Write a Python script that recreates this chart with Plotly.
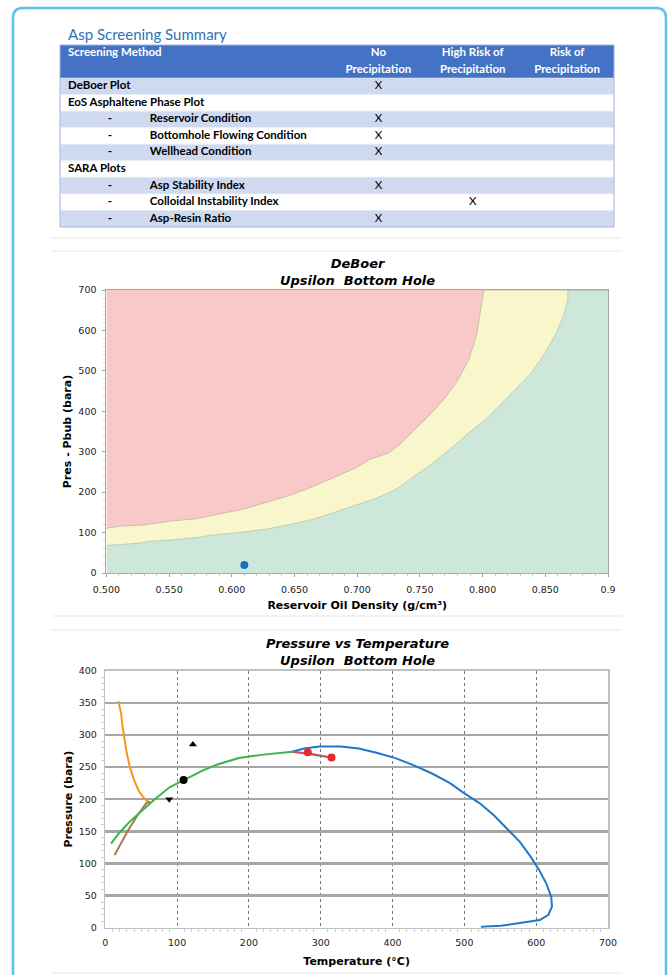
import plotly.graph_objects as go

# ---------------- data ----------------
table_title = "Asp Screening Summary"
header_top = ["Screening Method", "No", "High Risk of", "Risk of"]
header_bottom = ["", "Precipitation", "Precipitation", "Precipitation"]
methods = ["DeBoer Plot", "EoS Asphaltene Phase Plot", "Reservoir Condition",
           "Bottomhole Flowing Condition", "Wellhead Condition", "SARA Plots",
           "Asp Stability Index", "Colloidal Instability Index", "Asp-Resin Ratio"]
is_sub = [False, False, True, True, True, False, True, True, True]
no_precip = ["X", "", "X", "X", "X", "", "X", "", "X"]
high_risk = ["", "", "", "", "", "", "", "X", ""]
risk_precip = ["", "", "", "", "", "", "", "", ""]

# DeBoer plot boundaries
lower_density = [0.500, 0.527, 0.533, 0.550, 0.576, 0.582, 0.608, 0.629, 0.646, 0.664, 0.681, 0.699, 0.716,
                 0.725, 0.734, 0.745, 0.757, 0.774, 0.786, 0.804, 0.821, 0.839, 0.850, 0.859, 0.865, 0.868, 0.868]
lower_dp = [68, 74, 78, 81, 89, 93, 101, 109, 120, 132, 149, 169, 186,
            198, 213, 239, 264, 306, 339, 384, 438, 495, 545, 595, 640, 677, 700]
upper_density = [0.500, 0.512, 0.530, 0.550, 0.571, 0.588, 0.608, 0.629, 0.646, 0.664, 0.681, 0.699,
                 0.710, 0.725, 0.734, 0.745, 0.757, 0.769, 0.780, 0.789, 0.795, 0.799, 0.801]
upper_dp = [111, 116, 119, 128, 134, 145, 157, 176, 192, 213, 235, 260,
            281, 297, 318, 351, 388, 429, 475, 528, 586, 661, 700]
well_density = [0.610]
well_dp = [20]
density_range = [0.5, 0.9]
dp_range = [0, 700]
density_ticks = [0.50, 0.55, 0.60, 0.65, 0.70, 0.75, 0.80, 0.85, 0.90]
density_ticktext = ["0.500", "0.550", "0.600", "0.650", "0.700", "0.750", "0.800", "0.850", "0.9"]

# Pressure vs Temperature
orange_T = [18, 22, 24, 27, 30, 34, 40, 47, 56, 62]
orange_P = [353, 334, 313, 292, 271, 251, 230, 212, 199, 195]
brown_T = [13, 22, 32, 45, 57, 62]
brown_P = [113, 131, 152, 175, 194, 196]
green_T = [8, 19, 34, 55, 70, 90, 110, 136, 156, 186, 217, 247, 260, 277, 315]
green_P = [131, 147, 165, 186, 201, 219, 230, 245, 254, 264, 269, 272, 274, 271, 265]
pink_T = [260, 282, 315]
pink_P = [274, 272, 265]
red_T = [282, 315]
red_P = [273, 265]
blue_T = [260, 277, 298, 328, 353, 379, 404, 429, 455, 480, 500, 521, 541, 561, 577, 592, 604, 614,
          621, 622, 617, 605, 581, 561, 551, 531, 523]
blue_P = [274, 279, 282, 282, 279, 272, 264, 253, 240, 225, 209, 194, 175, 152, 134, 111, 90, 69,
          48, 33, 20, 12, 8, 4, 3, 2, 1]
circle_T, circle_P = [109], [230]
tri_up_T, tri_up_P = [122], [285]
tri_dn_T, tri_dn_P = [89], [200]

# ---------------- layout helpers ----------------
W, H = 669, 975
def px(x): return x / W
def py(y): return 1 - y / H

BLUE_ROW = "#cfdaf0"
HEAD = "#4472c4"
TFONT = "Lato"
TSIZE = 11.5

# table grid in its own axis: columns in px-like units, rows in row units (header = 2 units)
col_w = [272, 94, 95, 94]
col_left = [sum(col_w[:i]) for i in range(len(col_w))]
col_mid = [l + w / 2 for l, w in zip(col_left, col_w)]
table_w = sum(col_w)
n = len(methods)
row_y = [i + 0.5 for i in range(n)]
row_colors = [BLUE_ROW if i % 2 == 0 else "#ffffff" for i in range(n)]

fig = go.Figure()

# header and row backgrounds as horizontal bars
fig.add_trace(go.Bar(orientation="h", y=[-1], x=[table_w], base=0, width=2,
                     marker=dict(color=HEAD, line=dict(width=0)),
                     xaxis="x3", yaxis="y3", hoverinfo="skip"))
fig.add_trace(go.Bar(orientation="h", y=row_y, x=[table_w] * n, base=0, width=1,
                     marker=dict(color=row_colors, line=dict(color="#e9eef8", width=0.6)),
                     xaxis="x3", yaxis="y3", hoverinfo="skip"))

def table_text(xs, ys, texts, pos, color="black", weight="bold"):
    fig.add_trace(go.Scatter(x=xs, y=ys, text=texts, mode="text", textposition=pos,
                             textfont=dict(family=TFONT, size=TSIZE, color=color, weight=weight),
                             xaxis="x3", yaxis="y3", cliponaxis=False, hoverinfo="skip"))

# header text
table_text([8], [-1.5], [header_top[0]], "middle right", "white")
table_text(col_mid[1:], [-1.5] * 3, header_top[1:], "middle center", "white")
table_text(col_mid[1:], [-0.5] * 3, header_bottom[1:], "middle center", "white")
# first column
main_idx = [i for i in range(n) if not is_sub[i]]
sub_idx = [i for i in range(n) if is_sub[i]]
table_text([8] * len(main_idx), [row_y[i] for i in main_idx], [methods[i] for i in main_idx], "middle right")
table_text([50] * len(sub_idx), [row_y[i] for i in sub_idx], ["-"] * len(sub_idx), "middle center")
table_text([90] * len(sub_idx), [row_y[i] for i in sub_idx], [methods[i] for i in sub_idx], "middle right")
# result columns
for c, vals in zip(col_mid[1:], [no_precip, high_risk, risk_precip]):
    table_text([c] * n, row_y, vals, "middle center", weight="normal")

# DeBoer
fig.add_trace(go.Scatter(x=lower_density + [density_range[1]], y=lower_dp + [dp_range[1]],
                         mode="lines", line=dict(color="#a9c6ae", width=0.8), fill="tozeroy",
                         fillcolor="#cde7da", xaxis="x", yaxis="y", hoverinfo="skip"))
fig.add_trace(go.Scatter(x=upper_density + [density_range[1]], y=upper_dp + [dp_range[1]],
                         mode="lines", line=dict(color="#b9b9a0", width=0.8), fill="tonexty",
                         fillcolor="#faf6cb", xaxis="x", yaxis="y", hoverinfo="skip"))
fig.add_trace(go.Scatter(x=density_range, y=[dp_range[1]] * 2,
                         mode="lines", line=dict(width=0), fill="tonexty",
                         fillcolor="#f9c9ca", xaxis="x", yaxis="y", hoverinfo="skip"))
fig.add_trace(go.Scatter(x=well_density, y=well_dp, mode="markers",
                         marker=dict(color="#1f6fc0", size=8), xaxis="x", yaxis="y"))

# Pressure vs Temperature
def line(xs, ys, color, width=2):
    fig.add_trace(go.Scatter(x=xs, y=ys, mode="lines", line=dict(color=color, width=width),
                             xaxis="x2", yaxis="y2"))
line(blue_T, blue_P, "#1f78c8")
line(orange_T, orange_P, "#f7941d")
line(brown_T, brown_P, "#a87a4e")
line(green_T, green_P, "#3cb44a")
line(pink_T, pink_P, "#e0407a", 1.5)
fig.add_trace(go.Scatter(x=red_T, y=red_P, mode="markers", marker=dict(color="#e8282b", size=8),
                         xaxis="x2", yaxis="y2"))
fig.add_trace(go.Scatter(x=circle_T, y=circle_P, mode="markers", marker=dict(color="black", size=8),
                         xaxis="x2", yaxis="y2"))
fig.add_trace(go.Scatter(x=tri_up_T, y=tri_up_P, mode="markers",
                         marker=dict(color="black", size=7, symbol="triangle-up"), xaxis="x2", yaxis="y2"))
fig.add_trace(go.Scatter(x=tri_dn_T, y=tri_dn_P, mode="markers",
                         marker=dict(color="black", size=7, symbol="triangle-down"), xaxis="x2", yaxis="y2"))

tick_font = dict(family="DejaVu Sans", size=9.5, color="#222222")
title_font = dict(family="DejaVu Sans", size=11, color="black", weight="bold")

fig.update_layout(
    width=W, height=H, autosize=False,
    margin=dict(l=0, r=0, t=0, b=0, pad=0),
    paper_bgcolor="white", plot_bgcolor="white",
    showlegend=False, bargap=0,
    xaxis3=dict(domain=[px(60), px(614)], anchor="y3", range=[0, table_w], visible=False,
                automargin=False, fixedrange=True),
    yaxis3=dict(domain=[py(227), py(45)], anchor="x3", range=[n, -2], visible=False,
                automargin=False, fixedrange=True),
    xaxis=dict(domain=[px(106.4), px(608)], anchor="y", range=density_range, automargin=False,
               tickvals=density_ticks, ticktext=density_ticktext, tickfont=tick_font,
               showgrid=False, zeroline=False, showline=True, mirror=True, linecolor="#a8a8a8",
               ticks="outside", ticklen=3, tickcolor="#a0a0a0", ticklabelstandoff=5,
               minor=dict(dtick=0.01, ticks="outside", ticklen=2, tickcolor="#c8c8c8"),
               title=dict(text="Reservoir Oil Density (g/cm³)", font=title_font, standoff=6)),
    yaxis=dict(domain=[py(573), py(290)], anchor="x", range=dp_range, dtick=100, automargin=False,
               tickfont=tick_font, showgrid=False, zeroline=False, showline=True, mirror=True,
               linecolor="#a8a8a8", ticks="outside", ticklen=3, tickcolor="#a0a0a0", ticklabelstandoff=4,
               minor=dict(dtick=20, ticks="outside", ticklen=2, tickcolor="#c8d8c8"),
               title=dict(text="Pres - Pbub (bara)", font=title_font, standoff=4)),
    xaxis2=dict(domain=[px(105.3), px(608)], anchor="y2", range=[0, 700], dtick=100, automargin=False,
                tickfont=tick_font, showgrid=True, gridcolor="#777777", griddash="dot", gridwidth=1,
                zeroline=False, showline=True, mirror=True, linecolor="#c0c0c0", linewidth=1.5,
                ticks="", ticklabelstandoff=5,
                minor=dict(dtick=10, ticks="outside", ticklen=3, tickcolor="#c8d0dc"),
                title=dict(text="Temperature (°C)", font=title_font, standoff=10)),
    yaxis2=dict(domain=[py(927.7), py(670.7)], anchor="x2", range=[0, 400], dtick=50, automargin=False,
                tickfont=tick_font, showgrid=True, gridcolor="#a6a6a6", gridwidth=2.4,
                zeroline=False, showline=True, mirror=True, linecolor="#c0c0c0", linewidth=1.5,
                ticks="", ticklabelstandoff=5,
                minor=dict(dtick=10, ticks="outside", ticklen=3, tickcolor="#c8d0dc"),
                title=dict(text="Pressure (bara)", font=title_font, standoff=4)),
)

chart_title_font = dict(family="DejaVu Sans", size=13, color="black", weight="bold", style="italic")
fig.add_annotation(text="DeBoer<br>Upsilon  Bottom Hole", x=px(357), y=py(254), xref="paper", yref="paper",
                   xanchor="center", yanchor="top", showarrow=False, font=chart_title_font)
fig.add_annotation(text="Pressure vs Temperature<br>Upsilon  Bottom Hole", x=px(357), y=py(634),
                   xref="paper", yref="paper", xanchor="center", yanchor="top", showarrow=False,
                   font=chart_title_font)
fig.add_annotation(text=table_title, x=px(66), y=py(34), xref="paper", yref="paper",
                   xanchor="left", yanchor="middle", showarrow=False,
                   font=dict(family="Lato", size=15, color="#2e74b5"))

# outer frame with rounded corners
r = 10
x0, x1, y0, y1 = px(13), px(666), py(8), py(1000)
rx, ry = r / W, r / H
frame = (f"M {x0} {y0 - ry} Q {x0} {y0} {x0 + rx} {y0} L {x1 - rx} {y0} Q {x1} {y0} {x1} {y0 - ry} "
         f"L {x1} {y1} L {x0} {y1} Z")
fig.add_shape(type="path", path=frame, xref="paper", yref="paper",
              line=dict(color="#5bc3ee", width=2.5))
# table outline
fig.add_shape(type="rect", x0=0, x1=1, y0=0, y1=1, xref="x3 domain", yref="y3 domain",
              line=dict(color="#9fb4de", width=1))
# separator lines
for yy in [238, 251, 616, 630, 973]:
    fig.add_shape(type="line", x0=px(52), x1=px(622), y0=py(yy), y1=py(yy), xref="paper", yref="paper",
                  line=dict(color="#e6e6e6", width=1))

fig.write_html("out.html", config={"displayModeBar": False, "staticPlot": True},
               post_script="document.body.style.margin='0';")
